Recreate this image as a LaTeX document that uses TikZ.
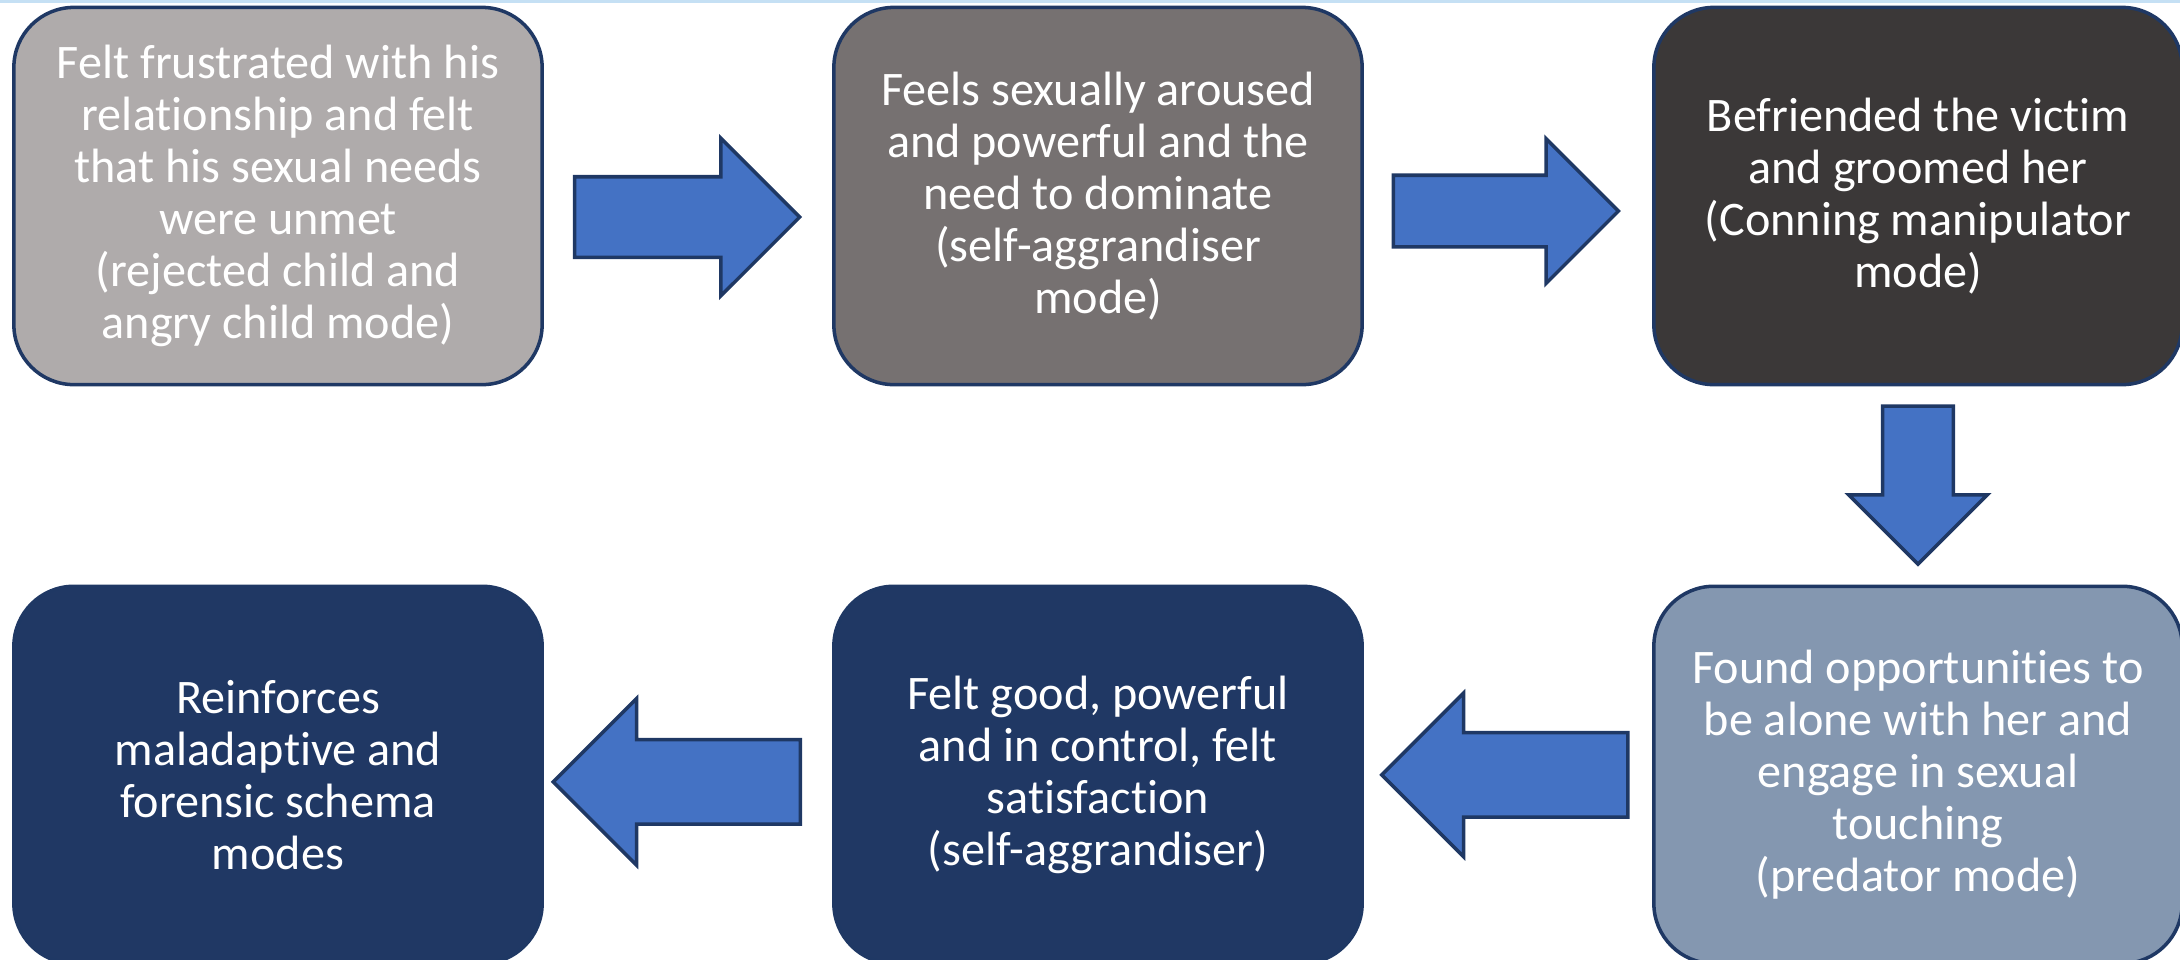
\documentclass[tikz,border=0pt]{standalone}
\usepackage{fontspec}
\setmainfont{Carlito}[Ligatures=NoCommon]
\usetikzlibrary{positioning,calc,shapes.arrows}

\definecolor{boxline}{HTML}{1F3864}
\definecolor{arrowblue}{HTML}{4472C4}
\definecolor{greylight}{HTML}{AFABAB}
\definecolor{greymid}{HTML}{767171}
\definecolor{greydark}{HTML}{3B3838}
\definecolor{bluegrey}{HTML}{8497B0}
\definecolor{navy}{HTML}{203864}
\definecolor{topline}{HTML}{C5E0F4}

\begin{document}
\begin{tikzpicture}[x=0.01cm, y=-0.01cm, node distance=1.98cm and 2.88cm,
    every node/.style={font=\fontsize{13.7}{14.8}\selectfont, text=white, align=center},
    modebox/.style={draw=boxline, line width=1pt, rounded corners=0.6cm,
        minimum width=5.28cm, minimum height=3.77cm, inner sep=0pt},
    blockarrow/.style={single arrow, draw=boxline, fill=arrowblue, line width=1pt,
        inner xsep=0pt, inner ysep=0.385cm, single arrow tip angle=90, single arrow head extend=0.385cm,
        minimum height=2.25cm}]
    \useasboundingbox (0,0) rectangle (2180,959);
    \fill[topline] (0,0) rectangle (2180,3);

    % top row, left to right
    \node[modebox, fill=greylight] (b1) at (278,196) {Felt frustrated with his\\relationship and felt\\that his sexual needs\\were unmet\\(rejected child and\\angry child mode)};
    \node[modebox, fill=greymid, right=of b1] (b2) {Feels sexually aroused\\and powerful and the\\need to dominate\\(self-aggrandiser\\mode)};
    \node[modebox, fill=greydark, right=of b2] (b3) {Befriended the victim\\and groomed her\\(Conning manipulator\\mode)};
    % bottom row, right to left
    \node[modebox, fill=bluegrey, below=of b3] (b4) {Found opportunities to\\be alone with her and\\engage in sexual\\touching\\(predator mode)};
    \node[modebox, fill=navy, left=of b4] (b5) {Felt good, powerful\\and in control, felt\\satisfaction\\(self-aggrandiser)};
    \node[modebox, fill=navy, left=of b5] (b6) {Reinforces\\maladaptive and\\forensic schema\\modes};

    % block arrows
    \node[blockarrow, xshift=-0.21cm, yshift=-0.21cm] (a12) at ($(b1.east)!0.5!(b2.west)$) {};
    \node[blockarrow, xshift=-0.2cm, yshift=-0.15cm, inner ysep=0.34cm, single arrow head extend=0.365cm] (a23) at ($(b2.east)!0.5!(b3.west)$) {};
    \node[blockarrow, shape border rotate=270, yshift=0.18cm, inner xsep=0.335cm, inner ysep=0pt, minimum height=1.58cm,
        single arrow head extend=0.34cm] (a34) at ($(b3.south)!0.5!(b4.north)$) {};
    \node[blockarrow, shape border rotate=180, xshift=0.18cm, inner ysep=0.405cm, minimum height=2.46cm,
        single arrow head extend=0.395cm] (a45) at ($(b5.east)!0.5!(b4.west)$) {};
    \node[blockarrow, shape border rotate=180, xshift=0.1cm, yshift=-0.07cm, inner ysep=0.405cm, minimum height=2.47cm,
        single arrow head extend=0.41cm] (a56) at ($(b6.east)!0.5!(b5.west)$) {};
\end{tikzpicture}
\end{document}
